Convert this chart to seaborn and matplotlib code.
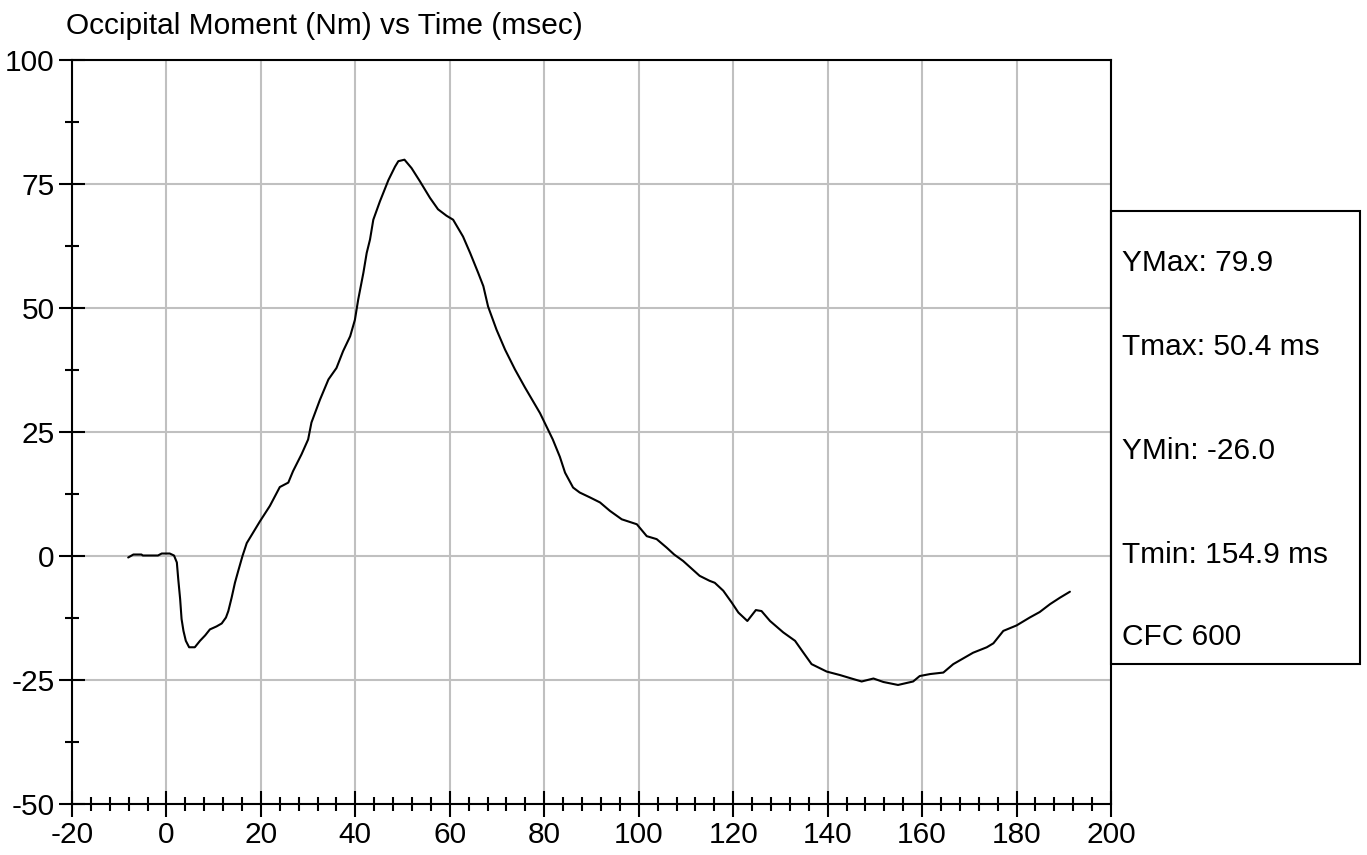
import pandas as pd
import matplotlib
matplotlib.use("Agg")
import matplotlib.pyplot as plt
from matplotlib.patches import Rectangle
from matplotlib.ticker import MultipleLocator
import seaborn as sns

# ============================
# Data
# ============================
time_ms = [-8.1, -7.0, -5.3, -5.0, -1.8, -1.0, 0.7, 1.6, 2.2, 2.5, 2.9, 3.2, 3.6, 4.1, 4.8,
           6.0, 7.1, 8.2, 9.2, 10.6, 11.7, 12.6, 13.1, 13.8, 14.5, 15.2, 16.1, 17.0, 17.7,
           19.8, 21.9, 24.0, 25.8, 26.8, 28.6, 30.0, 30.7, 32.5, 34.3, 36.0, 37.4, 38.9,
           39.9, 40.6, 41.7, 42.4, 43.1, 43.8, 45.2, 47.0, 48.4, 49.1, 50.4, 51.9, 53.7,
           55.8, 57.5, 59.3, 60.7, 62.8, 64.3, 66.0, 67.1, 68.1, 69.9, 71.7, 73.8, 75.9,
           79.1, 81.8, 83.3, 84.4, 86.1, 87.5, 89.7, 91.8, 93.9, 96.4, 99.6, 101.7, 103.8,
           105.9, 107.5, 109.4, 112.9, 115.0, 116.1, 117.9, 119.7, 121.1, 123.0, 124.8,
           126.0, 127.8, 130.6, 133.1, 134.8, 136.6, 139.8, 142.6, 145.4, 147.2, 149.7,
           151.8, 154.9, 158.1, 159.5, 161.7, 164.5, 166.6, 170.8, 173.7, 175.1, 177.2,
           180.0, 182.8, 184.9, 187.1, 189.2, 191.3]
moment_nm = [-0.3, 0.3, 0.3, 0.1, 0.1, 0.5, 0.5, 0.1, -1.3, -4.7, -8.7, -12.7, -15.1, -17.1,
             -18.4, -18.4, -17.1, -16.0, -14.8, -14.2, -13.6, -12.4, -11.1, -8.4, -5.4, -3.0,
             0.0, 2.6, 3.7, 7.0, 10.1, 13.9, 14.8, 17.1, 20.5, 23.5, 26.9, 31.5, 35.6, 37.9,
             41.3, 44.3, 47.6, 51.7, 57.1, 61.1, 63.8, 67.8, 71.5, 75.8, 78.5, 79.6, 79.9,
             78.2, 75.5, 72.2, 69.9, 68.6, 67.8, 64.4, 61.1, 57.1, 54.4, 50.3, 45.6, 41.6,
             37.6, 34.0, 28.8, 23.5, 20.0, 16.8, 13.8, 12.8, 11.8, 10.8, 9.1, 7.4, 6.4, 4.0,
             3.4, 1.7, 0.3, -1.0, -4.0, -5.0, -5.4, -7.0, -9.4, -11.4, -13.1, -10.9, -11.1,
             -13.1, -15.4, -17.1, -19.4, -21.8, -23.3, -24.0, -24.8, -25.3, -24.7, -25.4,
             -26.0, -25.3, -24.2, -23.8, -23.5, -21.8, -19.5, -18.4, -17.6, -15.1, -14.0,
             -12.4, -11.3, -9.7, -8.4, -7.2]

title = "Occipital Moment (Nm) vs Time (msec)"
stats_labels = ["YMax: 79.9", "Tmax: 50.4 ms", "YMin: -26.0", "Tmin: 154.9 ms", "CFC 600"]

df = pd.DataFrame({"time": time_ms, "moment": moment_nm})

# ============================
# Plot
# ============================
sns.set_style("white")
plt.rcParams["font.family"] = ["Liberation Sans", "DejaVu Sans"]
plt.rcParams["axes.unicode_minus"] = False
plt.rcParams["text.color"] = "black"
plt.rcParams["xtick.color"] = "black"
plt.rcParams["ytick.color"] = "black"

W, H = 1367, 855
fig = plt.figure(figsize=(W / 100, H / 100), dpi=100)
ax = fig.add_axes([72 / W, 1 - 804 / H, (1111 - 72) / W, (804 - 60) / H])

sns.lineplot(data=df, x="time", y="moment", ax=ax, color="black", linewidth=1.5)

ax.set_xlim(-20, 200)
ax.set_ylim(-50, 100)
ax.xaxis.set_major_locator(MultipleLocator(20))
ax.xaxis.set_minor_locator(MultipleLocator(4))
ax.yaxis.set_major_locator(MultipleLocator(25))
ax.yaxis.set_minor_locator(MultipleLocator(12.5))
ax.grid(True, which="major", color="#c0c0c0", linewidth=1.5)
ax.set_axisbelow(True)
ax.tick_params(which="major", direction="inout", length=19, width=1.5, color="black",
               labelsize=21.5, labelcolor="black", pad=3, left=True, bottom=True)
ax.tick_params(which="minor", direction="inout", length=10, width=1.5, color="black",
               left=True, bottom=True)
for s in ax.spines.values():
    s.set_color("black")
    s.set_linewidth(1.5)
ax.set_xlabel("")
ax.set_ylabel("")

fig.text(66 / W, 1 - 26 / H, title, fontsize=21.5, ha="left", va="center", color="black")

# stats box on the right
fig.patches.append(Rectangle((1111 / W, 1 - 664 / H), (1360 - 1111) / W, (664 - 211) / H,
                             transform=fig.transFigure, fill=False, edgecolor="black",
                             linewidth=1.5))
y_pos = [263, 347, 451, 555, 637]
for lab, yp in zip(stats_labels, y_pos):
    fig.text(1122 / W, 1 - yp / H, lab, fontsize=21.5, ha="left", va="center", color="black")

fig.savefig("out.png", dpi=100)
